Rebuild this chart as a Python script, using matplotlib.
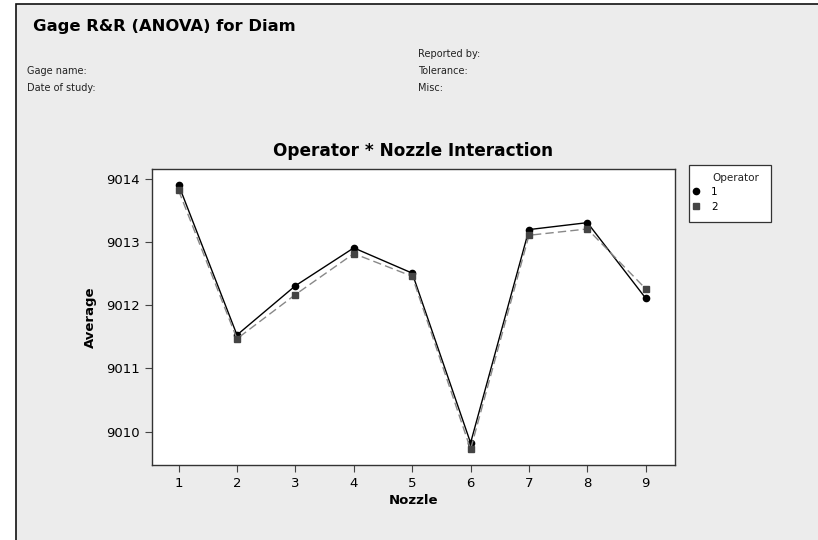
import matplotlib
matplotlib.use("Agg")
import matplotlib.pyplot as plt
from matplotlib.patches import Rectangle

# Operator * Nozzle interaction averages
nozzles = [1, 2, 3, 4, 5, 6, 7, 8, 9]
operator1 = [9013.91, 9011.53, 9012.31, 9012.91, 9012.51, 9009.82, 9013.20, 9013.31, 9012.11]
operator2 = [9013.82, 9011.47, 9012.17, 9012.82, 9012.46, 9009.72, 9013.11, 9013.21, 9012.26]
yticks = [9010, 9011, 9012, 9013, 9014]

W, H = 818, 540
fig = plt.figure(figsize=(W / 100, H / 100), dpi=100, facecolor="white")
plt.rcParams['font.family'] = ['DejaVu Sans']

# gray panel with black left/top border
bg = Rectangle((16 / W, -0.1), 1.2, 1 - 4 / H + 0.1, transform=fig.transFigure,
               facecolor="#ECECEC", edgecolor="#111111", linewidth=1.2, zorder=-10)
fig.patches.append(bg)

fig.text(33 / W, 1 - 27 / H, "Gage R&R (ANOVA) for Diam", fontsize=11.8, fontweight="bold",
         va="center", ha="left")
small = dict(fontsize=7, va="center", ha="left", color="#222222")
fig.text(27 / W, 1 - 71 / H, "Gage name:", **small)
fig.text(27 / W, 1 - 88 / H, "Date of study:", **small)
fig.text(418 / W, 1 - 54 / H, "Reported by:", **small)
fig.text(418 / W, 1 - 71 / H, "Tolerance:", **small)
fig.text(418 / W, 1 - 88 / H, "Misc:", **small)

left, right, top, bottom = 152, 675, 169, 465
ax = fig.add_axes([left / W, 1 - bottom / H, (right - left) / W, (bottom - top) / H])
ax.set_facecolor("white")

ax.plot(nozzles, operator1, color="black", linestyle="-", linewidth=1.0,
        marker="o", markersize=4.5, markerfacecolor="black", markeredgecolor="black", label="1")
ax.plot(nozzles, operator2, color="#888888", linestyle=(0, (6, 3)), linewidth=1.0,
        marker="s", markersize=4.5, markerfacecolor="#444444", markeredgecolor="#444444", label="2")

ax.set_xlim(0.545, 9.5)
ax.set_ylim(9009.47, 9014.16)
ax.set_xticks(nozzles)
ax.set_yticks(yticks)
ax.tick_params(direction="out", length=5, width=0.8, labelsize=9.5, color="#444444")
for s in ax.spines.values():
    s.set_color("#333333")
    s.set_linewidth(1.0)

ax.set_title("Operator * Nozzle Interaction", fontsize=12.2, fontweight="bold", pad=9)
ax.set_xlabel("Nozzle", fontsize=9.5, fontweight="bold", labelpad=3)
ax.set_ylabel("Average", fontsize=9.5, fontweight="bold", labelpad=7)

# legend box drawn separately so it can be wider than its content
lbox = Rectangle((689 / W, 1 - 222 / H), 82 / W, 57 / H, transform=fig.transFigure,
                 facecolor="white", edgecolor="#333333", linewidth=0.9, zorder=-5)
fig.patches.append(lbox)
fig.text(736 / W, 1 - 178 / H, "Operator", fontsize=7.5, ha="center", va="center", color="#222222")
leg = ax.legend(loc="upper left", bbox_to_anchor=(690 / W, 1 - 185 / H),
                bbox_transform=fig.transFigure, fontsize=7.5,
                frameon=False, handlelength=0.8, handletextpad=1.0, borderpad=0.2,
                labelspacing=0.45, borderaxespad=0)
for h in leg.legend_handles:
    h.set_linestyle("None")

fig.savefig("out.png", dpi=100, facecolor=fig.get_facecolor())
